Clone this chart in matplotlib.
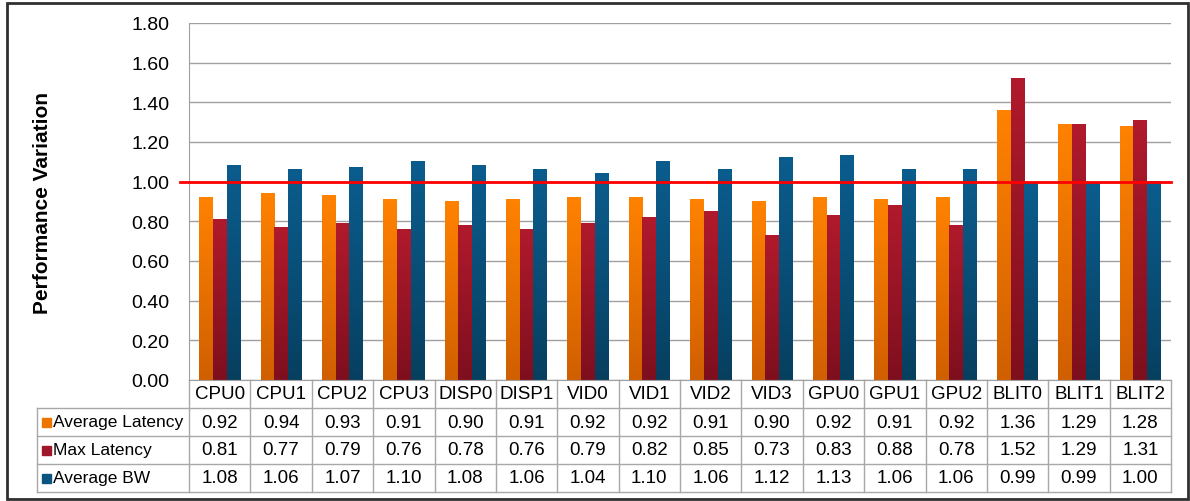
import numpy as np
import matplotlib.pyplot as plt
from matplotlib.colors import LinearSegmentedColormap
from matplotlib.transforms import blended_transform_factory
from matplotlib.patches import Rectangle

plt.rcParams['font.family'] = ['Liberation Sans', 'DejaVu Sans']

categories = ['CPU0', 'CPU1', 'CPU2', 'CPU3', 'DISP0', 'DISP1', 'VID0', 'VID1',
              'VID2', 'VID3', 'GPU0', 'GPU1', 'GPU2', 'BLIT0', 'BLIT1', 'BLIT2']
avg_latency = [0.92, 0.94, 0.93, 0.91, 0.90, 0.91, 0.92, 0.92,
               0.91, 0.90, 0.92, 0.91, 0.92, 1.36, 1.29, 1.28]
max_latency = [0.81, 0.77, 0.79, 0.76, 0.78, 0.76, 0.79, 0.82,
               0.85, 0.73, 0.83, 0.88, 0.78, 1.52, 1.29, 1.31]
avg_bw = [1.08, 1.06, 1.07, 1.10, 1.08, 1.06, 1.04, 1.10,
          1.06, 1.12, 1.13, 1.06, 1.06, 0.99, 0.99, 1.00]
series_names = ['Average Latency', 'Max Latency', 'Average BW']
series = [avg_latency, max_latency, avg_bw]
# (top colour, bottom colour) of each series' gradient
grads = [('#ff8200', '#d05f00'), ('#b01a2c', '#7e0f1e'), ('#0b5d8e', '#073f5f')]
key_colors = ['#ee7400', '#a0162a', '#0a557f']

W, H = 1190, 502
fig = plt.figure(figsize=(W / 100, H / 100), dpi=100)
ax = fig.add_axes([189 / W, 1 - 381 / H, (1171 - 189) / W, (381 - 24) / H])

n = len(categories)
x = np.arange(n)
bw = 0.222

for k, (vals, (c_top, c_bot)) in enumerate(zip(series, grads)):
    cmap = LinearSegmentedColormap.from_list('g%d' % k, [c_bot, c_top])
    grad = np.linspace(0, 1, 256).reshape(-1, 1)
    for xi, v in zip(x, vals):
        x0 = xi + (k - 1) * bw - bw / 2
        ax.imshow(grad, cmap=cmap, origin='lower', aspect='auto',
                  extent=(x0, x0 + bw, 0, v), zorder=2, interpolation='bilinear')
ax.set_xlim(-0.5, n - 0.5)
ax.set_ylim(0, 1.8)

ax.plot([-0.65, n - 0.5], [1.0, 1.0], color='#ff0000', lw=2, zorder=3, clip_on=False)

ticks = np.arange(0, 1.81, 0.2)
ax.set_yticks(ticks)
ax.set_yticklabels(['%.2f' % t for t in ticks], fontsize=14)
ax.yaxis.grid(True, color='#a0a0a0', lw=1)
ax.set_axisbelow(True)
ax.tick_params(axis='y', length=0, pad=14)
ax.set_xticks([])
for s in ['top', 'right']:
    ax.spines[s].set_visible(False)
ax.spines['left'].set_color('#a0a0a0')
ax.spines['bottom'].set_color('#a0a0a0')
ax.set_ylabel('Performance Variation', fontsize=15, fontweight='bold')
ax.yaxis.set_label_coords(52 / W, 0.5, transform=blended_transform_factory(fig.transFigure, ax.transAxes))

# data table under the plot
tr = blended_transform_factory(ax.transData, fig.transFigure)
fy = lambda py: 1 - py / H
fx = lambda px: px / W
grid_c = '#a8a8a8'
row_y = [381, 409, 437, 465, 493]
for b in np.arange(-0.5, n, 1.0):
    ax.plot([b, b], [fy(row_y[0]), fy(row_y[-1])], transform=tr, color=grid_c, lw=1, clip_on=False)
for yy in row_y[1:]:
    fig.lines.append(plt.Line2D([fx(37), fx(1171)], [fy(yy), fy(yy)],
                                transform=fig.transFigure, color=grid_c, lw=1))
fig.lines.append(plt.Line2D([fx(37), fx(37)], [fy(row_y[1]), fy(row_y[-1])],
                            transform=fig.transFigure, color=grid_c, lw=1))

fs_cell = 13.5
fs_row = 12.5
for xi, c in zip(x, categories):
    ax.text(xi, fy((row_y[0] + row_y[1]) / 2), c, transform=tr,
            ha='center', va='center', fontsize=fs_cell)
for r, (name, vals, kc) in enumerate(zip(series_names, series, key_colors)):
    yc = fy((row_y[r + 1] + row_y[r + 2]) / 2)
    for xi, v in zip(x, vals):
        ax.text(xi, yc, '%.2f' % v, transform=tr, ha='center', va='center', fontsize=fs_cell)
    fig.patches.append(Rectangle((fx(42), yc - 4.5 / H), 9 / W, 9 / H,
                                 transform=fig.transFigure, color=kc))
    fig.text(fx(53), yc, name, ha='left', va='center', fontsize=fs_row)

# outer frame
fig.patches.append(Rectangle((fx(7), fy(500)), (1188 - 7) / W, (500 - 4) / H,
                             transform=fig.transFigure, fill=False,
                             edgecolor='#303030', lw=2))

fig.savefig('out.png', dpi=100)
